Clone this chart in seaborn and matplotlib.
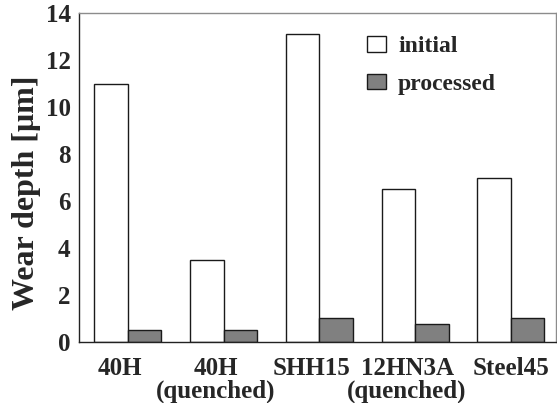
import pandas as pd
import numpy as np
import seaborn as sns
import matplotlib.pyplot as plt
import matplotlib.transforms as mtransforms

# Data
materials = ["40H", "40H\n(quenched)", "SHH15", "12HN3A\n(quenched)", "Steel45"]
initial = [11.0, 3.5, 13.1, 6.5, 7.0]
processed = [0.5, 0.5, 1.0, 0.75, 1.0]
yticks = [0, 2, 4, 6, 8, 10, 12, 14]

df = pd.DataFrame({
    "material": materials * 2,
    "state": ["initial"] * len(materials) + ["processed"] * len(materials),
    "depth": initial + processed,
})

sns.set_style("white")
plt.rcParams["font.family"] = ["Liberation Serif", "DejaVu Serif"]
plt.rcParams["font.weight"] = "bold"

fig = plt.figure(figsize=(5.57, 4.03), dpi=100)
ax = fig.add_axes([0.1418, 0.1514, 0.998 - 0.1418, 0.9677 - 0.1514])

sns.barplot(data=df, x="material", y="depth", hue="state", ax=ax,
            palette={"initial": "white", "processed": "#808080"},
            edgecolor="#1a1a1a", linewidth=1.0, width=0.7, saturation=1)

ax.set_xlim(-0.51, 4.47)
ax.set_ylim(0, 14)
ax.set_yticks(yticks)
ax.set_xlabel("")
ax.set_ylabel("Wear depth [μm]", fontsize=23, fontweight="bold")
ax.yaxis.set_label_coords(-0.08, 0.455)

ax.tick_params(axis="y", direction="in", length=7, width=1, labelsize=18, pad=6)
ax.tick_params(axis="x", length=0, labelsize=18, pad=11)
for lab in ax.get_yticklabels():
    lab.set_fontweight("bold")
shifts = [-8, -8, -8, -8, 0]
for lab, s in zip(ax.get_xticklabels(), shifts):
    lab.set_fontweight("bold")
    lab.set_linespacing(0.98)
    lab.set_transform(lab.get_transform() + mtransforms.ScaledTranslation(s / 100, 0, fig.dpi_scale_trans))

for side in ["left", "bottom"]:
    ax.spines[side].set_color("#222222")
    ax.spines[side].set_linewidth(1.0)
for side in ["top", "right"]:
    ax.spines[side].set_color("#8c8c8c")
    ax.spines[side].set_linewidth(1.0)

leg = ax.legend(loc="upper left", bbox_to_anchor=(0.56, 0.995), frameon=False,
                prop={"size": 17, "weight": "bold"}, handlelength=0.8,
                handleheight=0.65, handletextpad=0.5, labelspacing=0.7)

fig.savefig("out.png", dpi=100)
